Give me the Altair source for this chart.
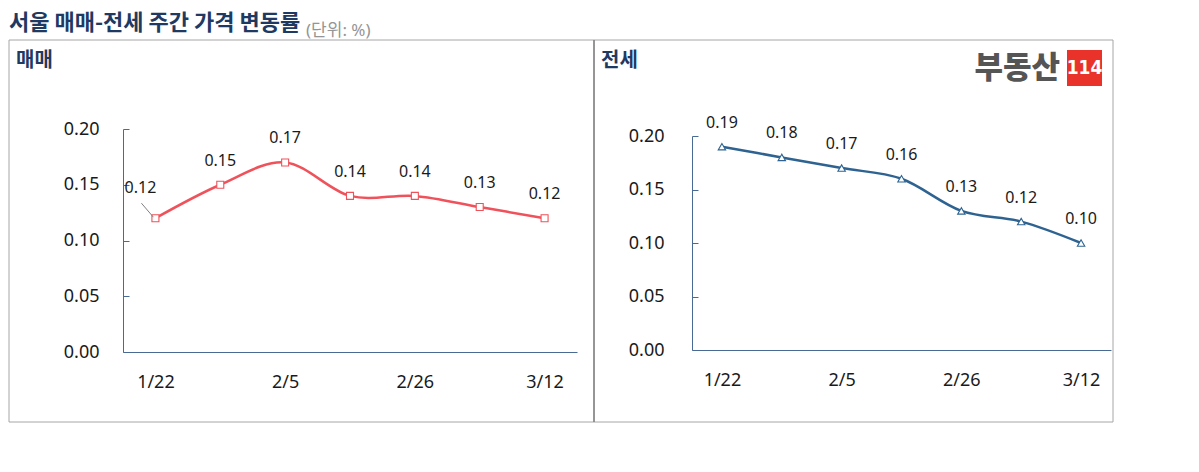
import altair as alt
import pandas as pd

# ---------------- data ----------------
DATES = ["1/22", "1/29", "2/5", "2/19", "2/26", "3/5", "3/12"]
SALE = [0.12, 0.15, 0.17, 0.14, 0.14, 0.13, 0.12]
JEONSE = [0.19, 0.18, 0.17, 0.16, 0.13, 0.12, 0.10]
Y_TICKS = [0.0, 0.05, 0.10, 0.15, 0.20]
X_LABELS = ["1/22", "2/5", "2/26", "3/12"]
TITLE = "서울 매매-전세 주간 가격 변동률"
UNIT = "(단위: %)"
PANEL_TITLES = ["매매", "전세"]
LOGO = "부동산"
LOGO_NUM = "114"

# ---------------- style ----------------
FONT = "Noto Sans, Noto Sans CJK KR"
KFONT = "Noto Sans CJK KR"
NAVY = "#1f3a62"
AXC = "#4a6a96"
TXT = "#1a1a1a"
RED_LINE = "#f0525b"
BLUE_LINE = "#2e6391"
BOX_H = 382


def one(text):
    return alt.Chart(pd.DataFrame({"t": [text]}))


def panel(values, color, shape, msize, w, xr, yr, ylabpad, title, special_first, extras):
    df = pd.DataFrame({"date": DATES, "v": values, "idx": list(range(len(DATES)))})
    df["lab"] = [f"{v:.2f}" for v in values]
    base = alt.Chart(df)
    xs = alt.Scale(type="point", domain=DATES, range=xr, padding=0.5)
    ys = alt.Scale(domain=[0, 0.2], range=yr)

    x_axis = alt.X(
        "date:N", sort=DATES, scale=xs,
        axis=alt.Axis(values=X_LABELS, title=None, orient="bottom",
                      domainColor=AXC, domainWidth=1, ticks=False, tickSize=0,
                      labelFont=FONT, labelFontSize=18, labelColor=TXT, labelAngle=0,
                      labelPadding=21, grid=False),
    )
    x_na = alt.X("date:N", sort=DATES, scale=xs, axis=None)
    y_left = alt.Y(
        "v:Q", scale=ys,
        axis=alt.Axis(values=Y_TICKS, format=".2f", title=None, orient="left", offset=-xr[0],
                      domainColor=AXC, domainWidth=1, ticks=False, tickSize=0,
                      labelFont=FONT, labelFontSize=18, labelColor=TXT, labelPadding=ylabpad,
                      grid=False),
    )
    y_right = alt.Y(
        "v:Q", scale=ys,
        axis=alt.Axis(values=Y_TICKS, title=None, orient="right", offset=xr[0] - w,
                      domain=False, labels=False, ticks=True, tickSize=6, tickColor=AXC,
                      tickWidth=1, grid=False),
    )
    y_na = alt.Y("v:Q", scale=ys, axis=None)

    box = one("").mark_rect(fill="white", fillOpacity=0, stroke="#a6a6a6", strokeWidth=1).encode(
        x=alt.value(0), x2=alt.value(w), y=alt.value(0), y2=alt.value(BOX_H))
    line = base.mark_line(color=color, strokeWidth=2.5, interpolate="cardinal").encode(
        x=x_axis, y=y_left)
    pts = base.mark_point(shape=shape, size=msize, fill="white", fillOpacity=1, stroke=color,
                          strokeWidth=1.1, opacity=1).encode(x=x_na, y=y_right)
    if special_first:
        lab_df = base.transform_filter("datum.idx > 0")
    else:
        lab_df = base
    labels = lab_df.mark_text(dy=-24, fontSize=16, font=FONT, color=TXT).encode(
        x=x_na, y=y_na, text="lab:N")
    layers = [box, line, pts, labels]
    if special_first:
        first = base.transform_filter("datum.idx == 0")
        leader = first.mark_rule(color="#808080", strokeWidth=1, xOffset=-14, yOffset=-15,
                                 x2Offset=-2, y2Offset=-1).encode(
            x=x_na, x2=alt.X2("date"), y=y_na, y2=alt.Y2("v"))
        flab = first.mark_text(dx=-15, dy=-30, fontSize=16, font=FONT, color=TXT).encode(
            x=x_na, y=y_na, text="lab:N")
        layers += [leader, flab]
    ptitle = one(title).mark_text(align="left", baseline="middle", font=KFONT, fontSize=20,
                                  fontWeight="bold", color=NAVY).encode(
        text="t:N", x=alt.value(7), y=alt.value(21))
    layers += [ptitle] + extras
    return (
        alt.layer(*layers)
        .resolve_axis(x="independent", y="independent")
        .properties(width=w, height=yr[0])
    )


W1, W2 = 585, 519

title_layer = one(TITLE).mark_text(align="left", baseline="middle", font=KFONT, fontSize=22,
                                   fontWeight="bold", color=NAVY).encode(
    text="t:N", x=alt.value(0), y=alt.value(-17))
unit_layer = one(UNIT).mark_text(align="left", baseline="middle", font=FONT, fontSize=17,
                                 color="#959595").encode(
    text="t:N", x=alt.value(297), y=alt.value(-9))

divider = one("").mark_rule(color="#6e6e6e", strokeWidth=1).encode(
    x=alt.value(0), y=alt.value(0), y2=alt.value(BOX_H))
logo_txt = one(LOGO).mark_text(align="right", baseline="middle", font=KFONT, fontSize=31,
                               fontWeight=900, color="#555555").encode(
    text="t:N", x=alt.value(466), y=alt.value(29))
logo_box = one("").mark_rect(color="#e8322a").encode(
    x=alt.value(473), x2=alt.value(508), y=alt.value(10), y2=alt.value(46))
logo_num = one(LOGO_NUM).mark_text(align="center", baseline="middle",
                                   font="DejaVu Sans Condensed, Liberation Sans Narrow, Roboto",
                                   fontSize=19, fontWeight="bold", color="white").encode(
    text="t:N", x=alt.value(490.5), y=alt.value(28))

p1 = panel(SALE, RED_LINE, "square", 49, W1, [114, 568], [312, 89], 24, PANEL_TITLES[0], True,
           [title_layer, unit_layer])
p2 = panel(JEONSE, BLUE_LINE, "triangle-up", 55, W2, [98, 517], [310, 96], 28, PANEL_TITLES[1],
           False, [divider, logo_box, logo_num, logo_txt])

chart = (
    alt.hconcat(p1, p2, spacing=0, bounds="flush")
    .properties(padding={"left": 0, "top": 4, "right": 2, "bottom": 2}, background="white")
    .configure_view(strokeWidth=0)
    .configure_axis(grid=False)
)

chart.save("out.html", embed_options={"renderer": "svg", "actions": False})
